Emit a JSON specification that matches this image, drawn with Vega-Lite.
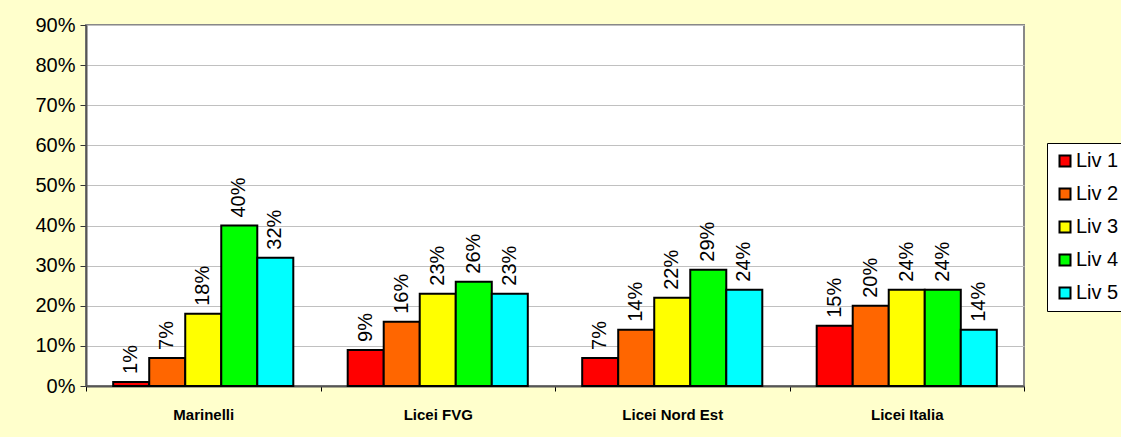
{
  "$schema": "https://vega.github.io/schema/vega-lite/v6.json",
  "autosize": {"type": "none"},
  "width": 938,
  "height": 361,
  "padding": {"left": 86, "top": 25, "right": 97, "bottom": 51},
  "background": "#FFFFCC",
  "config": {
    "font": "Liberation Sans",
    "view": {"fill": "white", "stroke": "#888888", "strokeWidth": 2}
  },
  "data": {
    "values": [
      {"gruppo": "Marinelli", "livello": "Liv 1", "valore": 0.01},
      {"gruppo": "Marinelli", "livello": "Liv 2", "valore": 0.07},
      {"gruppo": "Marinelli", "livello": "Liv 3", "valore": 0.18},
      {"gruppo": "Marinelli", "livello": "Liv 4", "valore": 0.40},
      {"gruppo": "Marinelli", "livello": "Liv 5", "valore": 0.32},
      {"gruppo": "Licei FVG", "livello": "Liv 1", "valore": 0.09},
      {"gruppo": "Licei FVG", "livello": "Liv 2", "valore": 0.16},
      {"gruppo": "Licei FVG", "livello": "Liv 3", "valore": 0.23},
      {"gruppo": "Licei FVG", "livello": "Liv 4", "valore": 0.26},
      {"gruppo": "Licei FVG", "livello": "Liv 5", "valore": 0.23},
      {"gruppo": "Licei Nord Est", "livello": "Liv 1", "valore": 0.07},
      {"gruppo": "Licei Nord Est", "livello": "Liv 2", "valore": 0.14},
      {"gruppo": "Licei Nord Est", "livello": "Liv 3", "valore": 0.22},
      {"gruppo": "Licei Nord Est", "livello": "Liv 4", "valore": 0.29},
      {"gruppo": "Licei Nord Est", "livello": "Liv 5", "valore": 0.24},
      {"gruppo": "Licei Italia", "livello": "Liv 1", "valore": 0.15},
      {"gruppo": "Licei Italia", "livello": "Liv 2", "valore": 0.20},
      {"gruppo": "Licei Italia", "livello": "Liv 3", "valore": 0.24},
      {"gruppo": "Licei Italia", "livello": "Liv 4", "valore": 0.24},
      {"gruppo": "Licei Italia", "livello": "Liv 5", "valore": 0.14}
    ]
  },
  "encoding": {
    "x": {
      "field": "gruppo",
      "type": "nominal",
      "sort": ["Marinelli", "Licei FVG", "Licei Nord Est", "Licei Italia"],
      "scale": {"paddingInner": 0, "paddingOuter": 0},
      "axis": {
        "title": null,
        "labelAngle": 0,
        "labelFont": "Liberation Sans",
        "labelFontSize": 15,
        "labelFontWeight": "bold",
        "labelColor": "black",
        "labelPadding": 16,
        "tickBand": "extent",
        "tickColor": "black",
        "tickSize": 5,
        "domainColor": "#555555",
        "domainWidth": 2,
        "grid": false
      }
    },
    "xOffset": {
      "field": "livello",
      "type": "nominal",
      "scale": {"paddingInner": 0, "paddingOuter": 0.755}
    }
  },
  "layer": [
    {
      "mark": {"type": "bar", "stroke": "black", "strokeWidth": 2},
      "encoding": {
        "y": {
          "field": "valore",
          "type": "quantitative",
          "scale": {"domain": [0, 0.9], "nice": false},
          "axis": {
            "title": null,
            "format": ".0%",
            "values": [0, 0.1, 0.2, 0.3, 0.4, 0.5, 0.6, 0.7, 0.8, 0.9],
            "labelFont": "Liberation Sans",
            "labelFontSize": 20,
            "labelColor": "black",
            "labelPadding": 5,
            "tickSize": 6,
            "tickColor": "#333333",
            "domainColor": "#555555",
            "domainWidth": 2,
            "gridColor": "#C0C0C0",
            "gridWidth": 1
          }
        },
        "color": {
          "field": "livello",
          "type": "nominal",
          "scale": {
            "domain": ["Liv 1", "Liv 2", "Liv 3", "Liv 4", "Liv 5"],
            "range": ["#FF0000", "#FF6600", "#FFFF00", "#00FF00", "#00FFFF"]
          },
          "legend": {
            "title": null,
            "orient": "none",
            "legendX": 961,
            "legendY": 118,
            "padding": 8,
            "fillColor": "white",
            "strokeColor": "black",
            "symbolType": "square",
            "symbolSize": 121,
            "symbolStrokeColor": "black",
            "symbolStrokeWidth": 2,
            "symbolOpacity": 1,
            "labelFont": "Liberation Sans",
            "labelFontSize": 20,
            "labelColor": "black",
            "labelOffset": 1,
            "rowPadding": 13
          }
        }
      }
    },
    {
      "mark": {
        "type": "text",
        "angle": 270,
        "align": "left",
        "baseline": "middle",
        "dx": 8,
        "font": "Liberation Sans",
        "fontSize": 20,
        "color": "black"
      },
      "encoding": {
        "y": {"field": "valore", "type": "quantitative"},
        "text": {"field": "valore", "type": "quantitative", "format": ".0%"}
      }
    }
  ]
}
